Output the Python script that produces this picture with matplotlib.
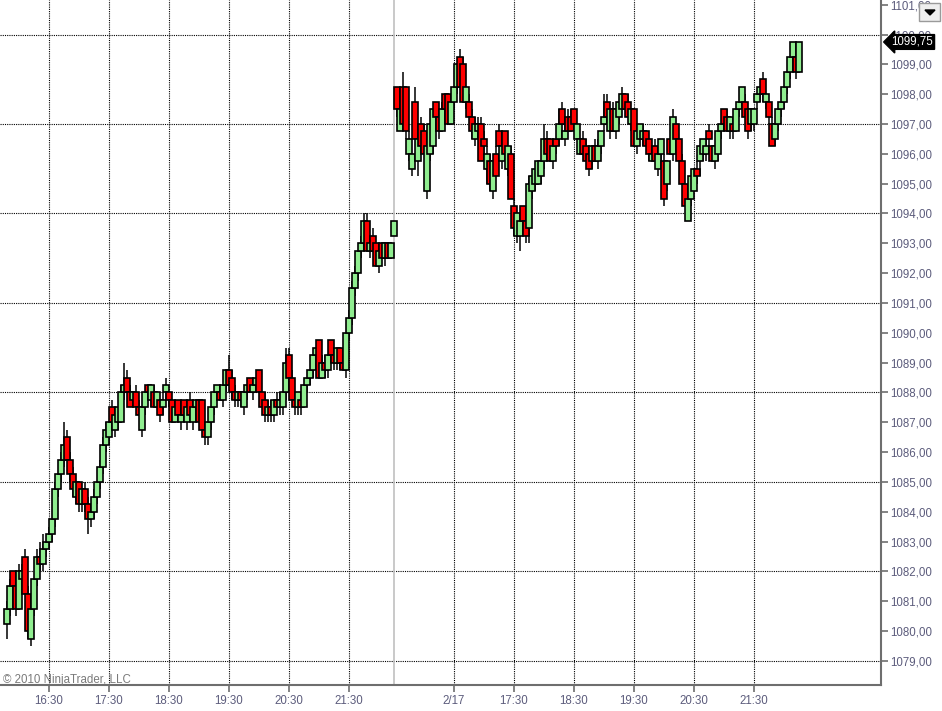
import matplotlib
matplotlib.use("Agg")
import matplotlib.pyplot as plt
import matplotlib.transforms as transforms
from matplotlib.patches import Rectangle, Polygon
import numpy as np

# session 1 (2/16), 3 minute bars starting 15:48
s1_start = "15:48"
s1_open = [1080.25, 1080.75, 1082.0, 1081.5, 1080.75, 1081.75, 1082.5, 1081.25, 1079.75, 1080.75,
           1081.75, 1082.5, 1082.25, 1082.75, 1083.0, 1083.25, 1083.75, 1084.75, 1085.25, 1085.75,
           1086.5, 1085.75, 1085.25, 1084.5, 1085.0, 1084.25, 1084.75, 1084.25, 1083.75, 1084.0,
           1084.5, 1085.0, 1085.5, 1086.25, 1086.5, 1087.5, 1086.75, 1087.0, 1087.0, 1088.0,
           1088.5, 1088.0, 1087.75, 1088.0, 1087.5, 1086.75, 1087.5, 1088.25, 1087.75, 1088.0,
           1087.5, 1087.75, 1087.5, 1088.0, 1088.0, 1087.75, 1087.0, 1087.75, 1087.0, 1087.75,
           1087.0, 1087.75, 1087.0, 1087.5, 1087.75, 1087.75, 1086.75, 1086.5, 1087.0, 1087.5,
           1088.0, 1088.0, 1087.75, 1088.25, 1088.75, 1088.5, 1088.0, 1087.75, 1088.0, 1087.5,
           1088.0, 1088.5, 1088.0, 1088.25, 1088.75, 1088.0, 1087.75, 1087.25, 1087.5, 1087.25,
           1087.75, 1087.5, 1087.5, 1088.0, 1089.25, 1088.5, 1087.75, 1087.5, 1087.75, 1087.5,
           1088.25, 1088.5, 1088.75, 1089.25, 1089.75, 1088.5, 1089.0, 1088.75, 1089.75, 1089.25,
           1089.0, 1089.5, 1089.0, 1088.75, 1090.0, 1090.5, 1091.5, 1092.0, 1092.75, 1093.0,
           1093.75, 1092.75, 1093.25, 1093.0, 1092.25, 1093.0, 1092.5, 1093.0, 1092.5, 1093.25]
s1_high = [1081.0, 1081.75, 1082.0, 1081.75, 1082.25, 1082.25, 1082.75, 1081.5, 1080.75, 1081.75,
           1082.75, 1083.0, 1083.25, 1083.0, 1083.5, 1083.75, 1085.0, 1085.25, 1086.0, 1087.0,
           1086.75, 1086.0, 1085.5, 1085.0, 1085.0, 1084.75, 1085.0, 1084.5, 1084.0, 1084.75,
           1085.0, 1085.75, 1086.5, 1087.0, 1087.0, 1087.75, 1087.5, 1087.5, 1088.25, 1089.0,
           1088.75, 1088.25, 1088.0, 1088.25, 1087.75, 1087.5, 1088.0, 1088.25, 1088.25, 1088.25,
           1088.0, 1087.75, 1088.0, 1088.5, 1088.0, 1087.75, 1087.75, 1087.75, 1087.5, 1087.75,
           1087.5, 1088.0, 1087.5, 1087.75, 1087.75, 1087.75, 1087.0, 1087.0, 1087.5, 1088.0,
           1088.25, 1088.25, 1088.25, 1088.75, 1089.25, 1088.75, 1088.25, 1088.0, 1088.0, 1088.0,
           1088.25, 1088.5, 1088.5, 1088.5, 1088.75, 1088.0, 1088.0, 1087.75, 1087.75, 1087.75,
           1088.0, 1088.0, 1088.0, 1089.5, 1089.5, 1088.75, 1088.0, 1088.0, 1088.0, 1088.25,
           1088.5, 1088.75, 1089.25, 1089.5, 1089.75, 1089.25, 1089.25, 1089.25, 1089.75, 1089.5,
           1089.5, 1089.5, 1089.25, 1090.0, 1090.75, 1091.75, 1092.25, 1092.75, 1093.25, 1094.0,
           1094.0, 1093.25, 1093.5, 1093.0, 1092.75, 1093.0, 1093.0, 1093.0, 1093.0, 1093.75]
s1_low = [1079.75, 1080.5, 1081.25, 1080.5, 1080.75, 1081.5, 1081.25, 1079.75, 1079.5, 1080.5,
          1081.5, 1082.0, 1082.0, 1082.5, 1082.75, 1083.0, 1083.5, 1084.5, 1085.0, 1085.5,
          1085.75, 1085.0, 1084.5, 1084.25, 1084.0, 1084.0, 1084.0, 1083.25, 1083.5, 1083.75,
          1084.25, 1084.75, 1085.25, 1086.0, 1086.25, 1086.75, 1086.5, 1086.75, 1087.0, 1087.75,
          1088.0, 1087.5, 1087.5, 1087.5, 1087.25, 1086.5, 1087.25, 1087.75, 1087.5, 1087.5,
          1087.5, 1087.0, 1087.25, 1087.75, 1087.5, 1087.0, 1087.0, 1087.25, 1086.75, 1087.0,
          1086.75, 1087.25, 1086.75, 1087.25, 1087.0, 1086.75, 1086.25, 1086.25, 1086.75, 1087.25,
          1087.75, 1087.75, 1087.5, 1088.0, 1088.25, 1087.75, 1087.5, 1087.5, 1087.5, 1087.25,
          1087.75, 1088.0, 1087.75, 1088.0, 1088.0, 1087.5, 1087.0, 1087.0, 1087.0, 1087.0,
          1087.5, 1087.25, 1087.25, 1087.75, 1088.5, 1087.75, 1087.25, 1087.25, 1087.25, 1087.5,
          1088.0, 1088.25, 1088.5, 1089.0, 1088.5, 1088.5, 1088.5, 1088.5, 1089.0, 1088.75,
          1088.75, 1088.75, 1088.75, 1088.5, 1089.75, 1090.25, 1091.25, 1091.75, 1092.5, 1092.75,
          1092.75, 1092.5, 1092.75, 1092.25, 1092.0, 1092.5, 1092.25, 1092.5, 1092.5, 1093.25]
s1_close = [1080.75, 1081.5, 1081.5, 1080.75, 1082.0, 1082.0, 1081.25, 1080.0, 1080.75, 1081.75,
            1082.5, 1082.25, 1082.75, 1083.0, 1083.25, 1083.75, 1084.75, 1085.25, 1085.75, 1086.25,
            1085.75, 1085.25, 1084.75, 1085.0, 1084.25, 1084.75, 1084.25, 1083.75, 1084.0, 1084.5,
            1085.0, 1085.5, 1086.25, 1086.75, 1087.0, 1087.0, 1087.25, 1087.5, 1088.0, 1088.25,
            1088.0, 1087.5, 1088.0, 1087.5, 1087.25, 1087.5, 1088.0, 1088.0, 1088.25, 1087.5,
            1088.0, 1087.25, 1087.75, 1088.25, 1087.75, 1087.0, 1087.5, 1087.25, 1087.25, 1087.25,
            1087.5, 1087.25, 1087.5, 1087.75, 1087.0, 1086.75, 1086.5, 1087.0, 1087.5, 1088.0,
            1088.25, 1087.75, 1088.25, 1088.75, 1088.25, 1088.0, 1087.75, 1088.0, 1087.75, 1088.0,
            1088.25, 1088.0, 1088.25, 1088.5, 1088.0, 1087.5, 1087.25, 1087.5, 1087.25, 1087.75,
            1087.5, 1087.75, 1088.0, 1089.0, 1088.5, 1087.75, 1087.5, 1088.0, 1087.5, 1088.25,
            1088.5, 1088.75, 1089.25, 1089.5, 1088.5, 1089.0, 1088.75, 1089.25, 1089.25, 1089.0,
            1089.5, 1089.0, 1088.75, 1090.0, 1090.5, 1091.5, 1092.0, 1092.75, 1093.0, 1093.75,
            1092.75, 1093.0, 1092.75, 1092.25, 1092.75, 1092.5, 1093.0, 1092.5, 1093.0, 1093.75]

# session 2 (2/17), 3 minute bars starting 15:33
s2_start = "15:33"
s2_date = "2/17"
s2_open = [1098.25, 1096.75, 1098.25, 1098.25, 1096.0, 1095.5, 1097.75, 1095.75, 1097.0, 1096.75,
           1094.75, 1096.0, 1096.25, 1097.75, 1097.25, 1096.75, 1098.0, 1098.0, 1097.0, 1097.75,
           1098.25, 1099.25, 1099.0, 1097.75, 1097.75, 1097.25, 1096.5, 1096.75, 1097.0, 1096.5,
           1095.5, 1095.75, 1094.75, 1096.0, 1096.75, 1095.75, 1096.75, 1095.5, 1096.0, 1094.25,
           1093.25, 1093.25, 1094.25, 1093.75, 1093.5, 1094.75, 1095.0, 1095.0, 1095.25, 1095.75,
           1096.5, 1096.5, 1095.75, 1096.5, 1096.5, 1097.5, 1096.5, 1097.25, 1097.25, 1097.5,
           1096.5, 1096.0, 1096.5, 1096.25, 1096.0, 1095.75, 1096.25, 1095.75, 1096.25, 1097.0,
           1097.75, 1096.75, 1097.5, 1096.75, 1097.25, 1097.5, 1098.0, 1097.75, 1097.0, 1097.5,
           1096.25, 1096.5, 1096.5, 1096.75, 1096.5, 1095.75, 1096.25, 1095.5, 1096.0, 1095.75,
           1095.0, 1096.5, 1096.0, 1097.0, 1096.5, 1095.75, 1095.0, 1093.75, 1094.5, 1094.75,
           1095.5, 1095.75, 1096.0, 1096.0, 1096.75, 1096.25, 1095.75, 1096.0, 1096.75, 1097.5,
           1097.25, 1096.75, 1097.0, 1096.75, 1097.5, 1097.75, 1097.75, 1097.5, 1097.0, 1097.0,
           1097.75, 1098.0, 1098.5, 1097.75, 1097.75, 1097.0, 1096.5, 1097.0, 1097.5, 1097.75,
           1098.25, 1098.75, 1099.25, 1099.25, 1098.75]
s2_high = [1098.25, 1097.5, 1098.75, 1098.25, 1096.75, 1096.0, 1098.25, 1096.5, 1097.25, 1097.0,
           1096.25, 1097.0, 1097.5, 1097.75, 1097.5, 1097.75, 1098.0, 1098.0, 1098.0, 1098.25,
           1099.0, 1099.5, 1099.25, 1098.25, 1098.0, 1097.5, 1097.25, 1097.25, 1097.25, 1096.75,
           1096.25, 1096.0, 1095.75, 1096.25, 1097.0, 1096.25, 1096.75, 1096.25, 1096.25, 1094.5,
           1094.0, 1093.75, 1094.25, 1094.0, 1095.25, 1095.25, 1095.5, 1095.75, 1095.75, 1097.0,
           1096.75, 1096.5, 1096.25, 1096.5, 1097.5, 1097.75, 1097.0, 1097.5, 1097.5, 1097.5,
           1097.0, 1096.5, 1096.75, 1096.5, 1096.0, 1096.25, 1096.5, 1096.5, 1096.75, 1098.0,
           1098.0, 1097.5, 1097.75, 1097.5, 1097.75, 1098.25, 1098.0, 1098.0, 1097.5, 1097.5,
           1096.75, 1097.0, 1097.0, 1096.75, 1096.5, 1096.25, 1096.5, 1096.0, 1096.5, 1096.0,
           1095.75, 1096.5, 1097.5, 1097.0, 1096.5, 1096.0, 1095.0, 1094.5, 1095.25, 1095.5,
           1095.75, 1096.25, 1096.5, 1096.5, 1097.0, 1096.25, 1096.25, 1096.75, 1097.0, 1097.5,
           1097.5, 1097.25, 1097.25, 1097.5, 1097.75, 1098.25, 1098.0, 1097.5, 1097.5, 1097.5,
           1098.0, 1098.25, 1098.75, 1098.0, 1097.75, 1097.25, 1097.0, 1097.5, 1097.75, 1098.25,
           1098.75, 1099.25, 1099.75, 1099.75, 1099.75]
s2_low = [1097.25, 1096.75, 1097.0, 1096.5, 1095.75, 1095.25, 1096.5, 1095.25, 1096.25, 1096.0,
          1094.5, 1095.75, 1096.0, 1097.0, 1096.5, 1096.75, 1097.25, 1097.0, 1097.0, 1097.5,
          1098.0, 1098.25, 1097.75, 1097.5, 1097.25, 1096.5, 1096.25, 1096.5, 1095.75, 1096.0,
          1095.0, 1094.75, 1094.5, 1095.25, 1096.25, 1095.5, 1096.0, 1095.25, 1094.5, 1093.25,
          1093.0, 1092.75, 1093.5, 1093.0, 1093.0, 1094.5, 1094.75, 1095.0, 1095.0, 1095.5,
          1095.75, 1095.75, 1095.5, 1096.0, 1096.25, 1097.0, 1096.25, 1096.75, 1096.75, 1097.0,
          1096.5, 1096.0, 1096.0, 1095.75, 1095.25, 1095.5, 1095.75, 1095.5, 1096.0, 1096.75,
          1097.25, 1096.5, 1096.75, 1096.5, 1097.0, 1097.5, 1097.5, 1097.25, 1096.75, 1096.25,
          1096.0, 1096.5, 1096.25, 1096.25, 1095.75, 1095.75, 1095.75, 1095.25, 1095.75, 1094.25,
          1094.75, 1096.0, 1095.75, 1096.25, 1095.75, 1095.0, 1094.25, 1093.75, 1094.25, 1094.75,
          1095.0, 1095.25, 1095.75, 1095.75, 1096.25, 1095.75, 1095.5, 1095.75, 1096.5, 1097.0,
          1096.75, 1096.5, 1096.5, 1096.75, 1097.25, 1097.5, 1097.25, 1096.5, 1096.75, 1096.75,
          1097.5, 1097.75, 1097.75, 1097.5, 1097.0, 1096.25, 1096.25, 1096.75, 1097.25, 1097.5,
          1098.0, 1098.5, 1099.0, 1098.5, 1098.75]
s2_close = [1097.5, 1097.5, 1097.0, 1096.75, 1096.5, 1096.0, 1096.5, 1096.5, 1096.25, 1096.0,
            1096.25, 1097.0, 1097.5, 1097.25, 1096.75, 1097.5, 1097.5, 1097.0, 1097.75, 1098.25,
            1099.0, 1098.25, 1097.75, 1098.25, 1097.25, 1096.75, 1097.0, 1097.0, 1095.75, 1096.25,
            1096.0, 1095.0, 1095.75, 1095.25, 1096.25, 1096.25, 1096.0, 1096.25, 1094.5, 1093.5,
            1094.0, 1093.75, 1093.75, 1093.25, 1095.0, 1095.25, 1095.5, 1095.75, 1095.75, 1096.5,
            1096.0, 1095.75, 1096.25, 1096.25, 1097.0, 1097.0, 1096.75, 1096.75, 1096.75, 1097.0,
            1097.0, 1096.5, 1096.0, 1095.75, 1095.5, 1096.25, 1095.75, 1096.25, 1096.75, 1097.25,
            1097.25, 1097.5, 1096.75, 1097.5, 1097.75, 1098.0, 1097.5, 1097.25, 1097.5, 1096.25,
            1096.75, 1097.0, 1096.75, 1096.25, 1096.0, 1096.0, 1095.75, 1096.0, 1096.5, 1094.5,
            1095.75, 1096.0, 1097.25, 1096.5, 1095.75, 1095.0, 1094.25, 1094.5, 1095.25, 1095.5,
            1095.25, 1096.25, 1096.5, 1096.25, 1096.5, 1095.75, 1096.25, 1096.75, 1097.0, 1097.0,
            1096.75, 1097.25, 1096.75, 1097.5, 1097.75, 1098.25, 1097.25, 1096.75, 1097.5, 1097.5,
            1098.0, 1098.25, 1098.0, 1098.0, 1097.25, 1096.25, 1097.0, 1097.5, 1097.75, 1098.25,
            1098.75, 1099.25, 1099.75, 1098.75, 1099.75]

bar_minutes = 3
hour_ticks = ["16:30", "17:30", "18:30", "19:30", "20:30", "21:30"]
grid_prices = [1079, 1082, 1085, 1088, 1091, 1094, 1097, 1100]
label_prices = list(range(1079, 1102))

UP = "#90ee90"
DOWN = "#ff0000"
AXIS = "#6e6e6e"
LABEL = "#5c5c7c"
plt.rcParams["font.family"] = ["Liberation Sans", "DejaVu Sans"]


def minutes(t):
    h, m = t.split(":")
    return int(h) * 60 + int(m)


opens = np.array(s1_open + s2_open)
highs = np.array(s1_high + s2_high)
lows = np.array(s1_low + s2_low)
closes = np.array(s1_close + s2_close)
n1 = len(s1_close)
xs = np.arange(len(closes))

fig = plt.figure(figsize=(9.42, 7.11), dpi=100)
ax = fig.add_axes([0, 26 / 711, 881 / 942, 685 / 711])

# grid
for p in grid_prices:
    ax.axhline(p, color="black", lw=0.8, ls=(0, (1, 1)), zorder=0)
tick_pos, tick_lab = [], []
for t in hour_ticks:
    tick_pos.append((minutes(t) - minutes(s1_start)) / bar_minutes)
    tick_lab.append(t)
for t in hour_ticks:
    tick_pos.append(n1 + (minutes(t) - minutes(s2_start)) / bar_minutes)
    tick_lab.append(s2_date if t == hour_ticks[0] else t)
for x in tick_pos:
    ax.axvline(x, color="black", lw=0.8, ls=(0, (1, 1)), zorder=0)
# session break
ax.axvline(n1 - 1, color="#c0c0c0", lw=1.2, zorder=0.5)

# candles
ax.vlines(xs, lows, highs, color="black", lw=1.1, zorder=2)
colors = [UP if c >= o else DOWN for o, c in zip(opens, closes)]
ax.bar(xs, np.abs(closes - opens), bottom=np.minimum(opens, closes), width=1.75,
       color=colors, edgecolor="black", linewidth=1.2, zorder=3)

ax.set_xlim(-7 / 3, 874 / 3)
ax.set_ylim(1078.193, 1101.157)
ax.set_xticks(tick_pos)
ax.set_xticklabels(tick_lab)
ax.yaxis.tick_right()
ax.set_yticks(label_prices)
ax.set_yticklabels([f"{p:.2f}".replace(".", ",") for p in label_prices])
ax.tick_params(axis="both", direction="out", length=5, width=1.2, color=AXIS,
               labelcolor=LABEL, labelsize=8.3)
ax.tick_params(axis="y", pad=1.5)
ax.tick_params(axis="x", pad=2.5)
for s in ["top", "left"]:
    ax.spines[s].set_visible(False)
for s in ["bottom", "right"]:
    ax.spines[s].set_color(AXIS)
    ax.spines[s].set_linewidth(1.5)

# last price marker (drawn over the 1100 label, as in the platform)
trans = transforms.blended_transform_factory(ax.transAxes, ax.transData)
ax.annotate(f"{closes[-1]:.2f}".replace(".", ","), xy=(1.0, closes[-1]), xycoords=trans,
            xytext=(7.5, 0), textcoords="offset points", ha="left", va="center",
            color="white", fontsize=8.3, zorder=10,
            bbox=dict(boxstyle="larrow,pad=0.12", fc="black", ec="black"),
            annotation_clip=False)

# dropdown button
W, H = 942, 711
fig.patches.append(Rectangle((919 / W, 1 - 21 / H), 21 / W, 18 / H, transform=fig.transFigure,
                             fc="#eeeeee", ec="#9a9a9a", lw=1))
fig.patches.append(Polygon([(925 / W, 1 - 10 / H), (935 / W, 1 - 10 / H), (930 / W, 1 - 15 / H)],
                           closed=True, transform=fig.transFigure, fc="black", ec="black"))

fig.text(3 / W, 1 - 683 / H, "\u00a9 2010 NinjaTrader, LLC", fontsize=8.3, color="#7a7a7a",
         va="baseline", ha="left")

fig.savefig("out.png", dpi=100)
